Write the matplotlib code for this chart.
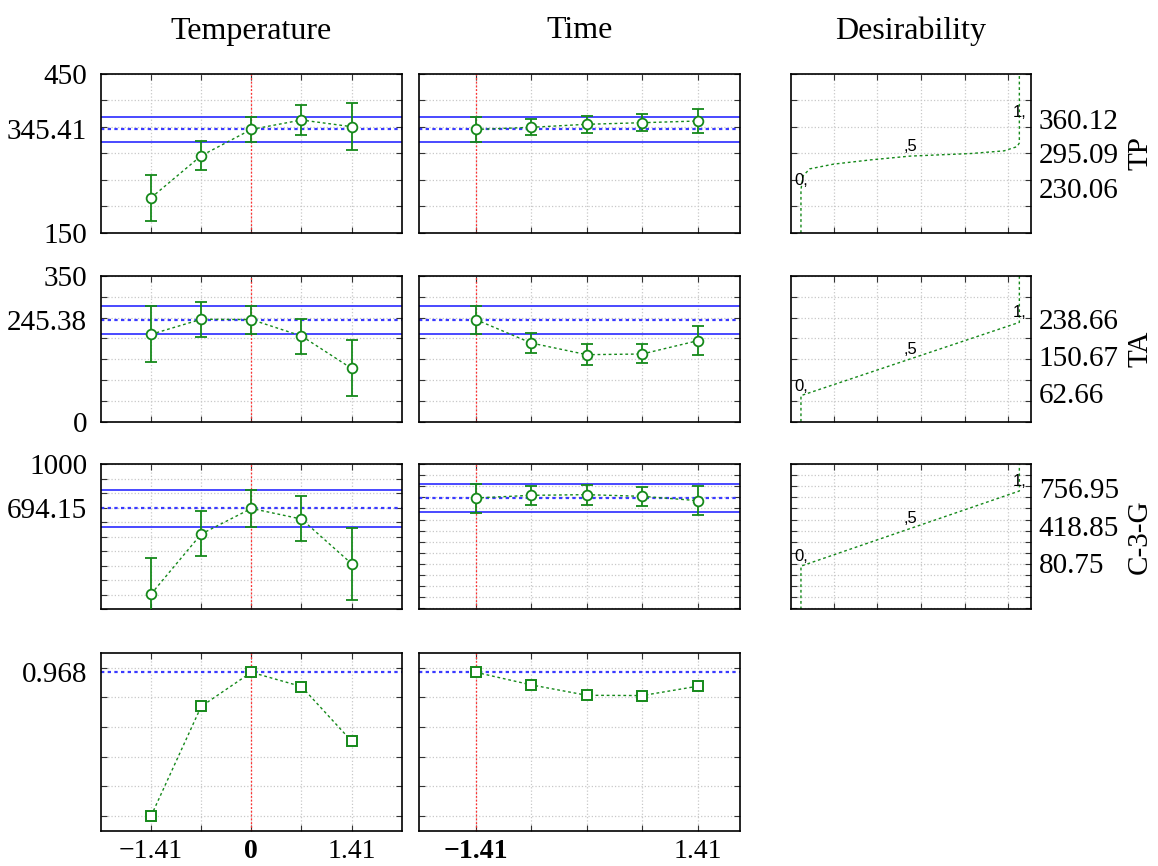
import numpy as np
import matplotlib.pyplot as plt
from matplotlib.transforms import blended_transform_factory

plt.rcParams['font.family'] = ['Liberation Serif', 'DejaVu Serif']

# coded factor levels
levels = [-1.41, -0.705, 0, 0.705, 1.41]

# TP profiles
tp_temp = [216.6, 295.8, 345.41, 363.2, 350.6]
tp_temp_lo = [172, 268.3, 322.3, 335.5, 306.6]
tp_temp_hi = [260, 323, 368.3, 391, 394.7]
tp_time = [345.41, 349.4, 355.1, 358.1, 361.3]
tp_time_lo = [322.3, 335, 338.7, 343, 338.7]
tp_time_hi = [368.3, 364.5, 371.3, 374, 384]
tp_pred = 345.41
tp_ci = [322.5, 368.3]

# TA profiles
ta_temp = [209.9, 246, 245.38, 205.9, 128]
ta_temp_lo = [143.4, 204.2, 210.7, 163.3, 61.7]
ta_temp_hi = [277.2, 288.3, 278.7, 246.7, 195.5]
ta_time = [245.38, 189, 161, 162.6, 194.6]
ta_time_lo = [210.7, 165.7, 136.2, 141, 160.2]
ta_time_hi = [278.7, 212.3, 186.6, 186, 229.2]
ta_pred = 245.38
ta_ci = [210.5, 278.7]

# C-3-G profiles
cg_temp = [105, 518, 694.15, 621, 314]
cg_temp_lo = [-145, 365, 566, 468, 66]
cg_temp_hi = [355, 679, 821, 782, 562]
cg_time = [694.15, 718, 724, 709, 670]
cg_time_lo = [562, 631, 628, 619, 541]
cg_time_hi = [820, 805, 814, 793, 799]
cg_pred = 694.15
cg_ci = [566, 821]

# overall desirability
des_temp = [0.0, 0.738, 0.968, 0.872, 0.504]
des_time = [0.968, 0.883, 0.813, 0.811, 0.874]
des_pred = 0.968

# desirability functions (x = desirability, y = response)
tp_fn_d = [0, 0, 0.01, 0.04, 0.15, 0.32, 0.5, 0.78, 0.93, 0.99, 1, 1, 1]
tp_fn_y = [150, 232, 258, 271, 280, 288, 295.09, 300, 305, 313, 320, 360.12, 450]
tp_fn_marks = [230.06, 295.09, 360.12]
ta_fn_d = [0, 0, 1, 1]
ta_fn_y = [0, 62.66, 238.66, 350]
ta_fn_marks = [62.66, 150.67, 238.66]
cg_fn_d = [0, 0, 1, 1]
cg_fn_y = [-308, 80.75, 756.95, 1000]
cg_fn_marks = [80.75, 418.85, 756.95]

# bottom axis labels
temp_xlab = [(-1.41, '\u22121.41', 'normal'), (0, '0', 'bold'), (1.41, '1.41', 'normal')]
time_xlab = [(-1.41, '\u22121.41', 'bold'), (1.41, '1.41', 'normal')]

col_titles = ['Temperature', 'Time', 'Desirability']
row_names = ['TP', 'TA', 'C-3-G']

W, H = 1158, 866
green = '#15891a'
grid_c = '#c8c8c8'
fs = 21


def rect(x0, x1, y0, y1):
    return [x0 / W, 1 - y1 / H, (x1 - x0) / W, (y1 - y0) / H]


cols_px = [(101, 401.7), (419.3, 740), (790.7, 1030.7)]
rows_px = [(74, 233), (276, 421.7), (464, 609.3), (652.7, 830.7)]


def style_axes(ax):
    for s in ax.spines.values():
        s.set_linewidth(1.2)
    ax.tick_params(which='both', direction='in', top=True, right=True,
                   length=4, width=0.8, color='#333333', labelsize=fs)
    ax.tick_params(axis='y', pad=8)
    ax.grid(True, which='major', color=grid_c, linestyle=':', linewidth=0.9)
    ax.set_axisbelow(True)


def draw_profile(ax, y, lo, hi, pred, ci, cur, xlim, ylim, yticks, square=False):
    style_axes(ax)
    ax.set_xlim(xlim)
    ax.set_ylim(ylim)
    ax.set_xticks(levels)
    ax.set_xticklabels([])
    ax.set_yticks(yticks)
    ax.set_yticklabels([])
    ax.axvline(cur, color='#ff3030', linestyle=(0, (1.5, 1.5)), linewidth=0.9)
    if ci is not None:
        for c in ci:
            ax.axhline(c, color='#3a3aff', linewidth=1.3)
    ax.axhline(pred, color='#3a3aff', linestyle=(0, (1.5, 1.5)), linewidth=1.6)
    if square:
        ax.plot(levels, y, color=green, linestyle=(0, (2, 2)), linewidth=1,
                marker='s', markersize=7, markerfacecolor='white',
                markeredgewidth=1.4, clip_on=False, zorder=5)
    else:
        yarr = np.array(y)
        err = [yarr - np.array(lo), np.array(hi) - yarr]
        ax.errorbar(levels, y, yerr=err, color=green, ecolor=green,
                    linestyle=(0, (2, 2)), linewidth=1, elinewidth=1.3,
                    capsize=4.5, capthick=1.3, marker='o', markersize=7,
                    markerfacecolor='white', markeredgewidth=1.3, zorder=5)


def add_left_labels(ax, vals, texts):
    ax.yaxis.remove_overlapping_locs = False
    ax.set_yticks(vals, minor=True)
    ax.set_yticklabels(texts, minor=True)
    ax.tick_params(axis='y', which='minor', length=0, left=True, right=False,
                   pad=10)


def add_bottom_labels(ax, labs):
    tr = blended_transform_factory(ax.transData, ax.transAxes)
    for xv, t, w in labs:
        ax.annotate(t, (xv, 0), xycoords=tr, xytext=(0, -15),
                    textcoords='offset points', ha='center', va='center',
                    fontsize=20, fontweight=w)


def draw_desir(ax, d, yv, marks, ylim, yticks):
    style_axes(ax)
    ax.set_xlim(-0.047, 1.052)
    ax.set_ylim(ylim)
    ax.set_xticks([0.15, 0.35, 0.55, 0.75, 0.95])
    ax.set_xticklabels([])
    ax.set_yticks(yticks)
    ax.set_yticklabels([])
    ax.plot(d, yv, color=green, linestyle=(0, (2, 2)), linewidth=1)
    for dx, m, t in zip([0, 0.5, 1], marks, ['0,', ',5', '1,']):
        ax.annotate(t, (dx, m), xytext=(0, 1.5), textcoords='offset points',
                    ha='center', va='bottom', fontsize=12,
                    family=['Liberation Sans', 'DejaVu Sans'])
    tr = blended_transform_factory(ax.transAxes, ax.transData)
    for m in marks:
        ax.text(1 + 8 / 240, m, '%.2f' % m, transform=tr, ha='left',
                va='center', fontsize=fs)


fig = plt.figure(figsize=(W / 100, H / 100), dpi=100)

xlims = [(-2.115, 2.115), (-2.127, 1.947)]
current = [0, -1.41]

prof_data = [
    [(tp_temp, tp_temp_lo, tp_temp_hi), (tp_time, tp_time_lo, tp_time_hi)],
    [(ta_temp, ta_temp_lo, ta_temp_hi), (ta_time, ta_time_lo, ta_time_hi)],
    [(cg_temp, cg_temp_lo, cg_temp_hi), (cg_time, cg_time_lo, cg_time_hi)],
]
preds = [tp_pred, ta_pred, cg_pred]
cis = [tp_ci, ta_ci, cg_ci]
ylims = [[(150, 450), (150, 450)], [(0, 350), (0, 350)], [(0, 1000), (-308, 1000)]]
yticks = [[np.arange(150, 451, 50)] * 2, [np.arange(0, 351, 50)] * 2,
          [np.arange(0, 1001, 100), np.arange(-300, 1001, 100)]]
left_labels = [([150, 345.41, 450], ['150', '345.41', '450']),
               ([0, 245.38, 350], ['0', '245.38', '350']),
               ([694.15, 1000], ['694.15', '1000'])]

for r in range(3):
    for c in range(2):
        ax = fig.add_axes(rect(*cols_px[c], *rows_px[r]))
        y, lo, hi = prof_data[r][c]
        draw_profile(ax, y, lo, hi, preds[r], cis[r], current[c],
                     xlims[c], ylims[r][c], yticks[r][c])
        if c == 0:
            add_left_labels(ax, *left_labels[r])

# overall desirability row
for c, vals in enumerate([des_temp, des_time]):
    ax = fig.add_axes(rect(*cols_px[c], *rows_px[3]))
    draw_profile(ax, vals, None, None, des_pred, None, current[c],
                 xlims[c], (-0.1, 1.1), np.arange(0, 1.01, 0.2), square=True)
    if c == 0:
        add_left_labels(ax, [des_pred], ['0.968'])
        add_bottom_labels(ax, temp_xlab)
    else:
        add_bottom_labels(ax, time_xlab)

# desirability function panels
fn_data = [(tp_fn_d, tp_fn_y, tp_fn_marks, (150, 450), np.arange(150, 451, 50)),
           (ta_fn_d, ta_fn_y, ta_fn_marks, (0, 350), np.arange(0, 351, 50)),
           (cg_fn_d, cg_fn_y, cg_fn_marks, (-308, 1000), np.arange(-300, 1001, 100))]
for r in range(3):
    ax = fig.add_axes(rect(*cols_px[2], *rows_px[r]))
    d, yv, marks, yl, yt = fn_data[r]
    draw_desir(ax, d, yv, marks, yl, yt)
    yc = 1 - (rows_px[r][0] + rows_px[r][1]) / 2 / H
    fig.text(1140 / W, yc, row_names[r], rotation=90, ha='center',
             va='center', fontsize=fs)

# column titles
for c in range(3):
    xc = (cols_px[c][0] + cols_px[c][1]) / 2 / W
    fig.text(xc, 1 - 31 / H, col_titles[c], ha='center', va='center', fontsize=23)

plt.savefig('out.png', dpi=100)
plt.close()
